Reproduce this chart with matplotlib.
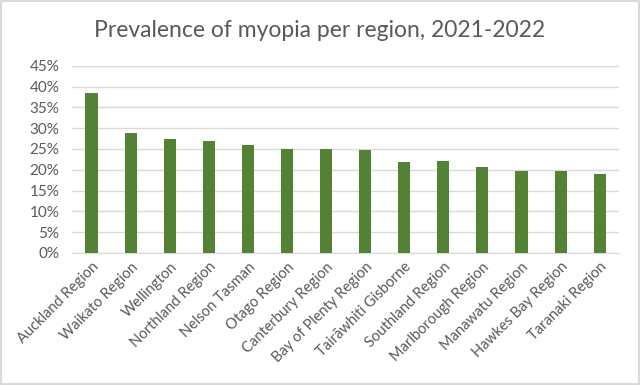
import matplotlib
matplotlib.use("Agg")
import matplotlib.pyplot as plt
from matplotlib.ticker import PercentFormatter, MultipleLocator
from matplotlib.patches import Rectangle

plt.rcParams['font.family'] = ['Lato', 'DejaVu Sans']

# --- データ ---
regions = ["Auckland Region", "Waikato Region", "Wellington", "Northland Region",
           "Nelson Tasman", "Otago Region", "Canterbury Region", "Bay of Plenty Region",
           "Tairāwhiti Gisborne", "Southland Region", "Marlborough Region",
           "Manawatu Region", "Hawkes Bay Region", "Taranaki Region"]
prevalence = [0.384, 0.289, 0.273, 0.269, 0.259, 0.251, 0.251, 0.247,
              0.219, 0.222, 0.207, 0.197, 0.197, 0.191]

BAR_COLOR = "#548235"
TEXT_COLOR = "#595959"
GRID_COLOR = "#d9d9d9"

fig = plt.figure(figsize=(6.4, 3.85), dpi=100)
ax = fig.add_axes([0.1125, 0.343, 0.855, 0.486])

x = range(len(regions))
ax.bar(x, prevalence, width=0.31, color=BAR_COLOR, zorder=3)

# --- 軸設定 ---
ax.set_ylim(0, 0.45)
ax.set_xlim(-0.5, len(regions) - 0.5)
ax.yaxis.set_major_locator(MultipleLocator(0.05))
ax.yaxis.set_major_formatter(PercentFormatter(1.0, decimals=0))
ax.grid(axis="y", color=GRID_COLOR, linewidth=1, zorder=0)
for s in ["top", "right", "left"]:
    ax.spines[s].set_visible(False)
ax.spines["bottom"].set_color(GRID_COLOR)
ax.tick_params(axis="both", length=0, colors=TEXT_COLOR, labelsize=10.5)
ax.tick_params(axis="y", labelsize=11, pad=9)
ax.tick_params(axis="x", pad=5)
ax.set_xticks(list(x))
ax.set_xticklabels(regions, rotation=45, ha="right", rotation_mode="anchor")

fig.text(0.5, 0.92, "Prevalence of myopia per region, 2021-2022",
         ha="center", va="center", fontsize=16.5, color=TEXT_COLOR)

# 外枠
fig.patches.append(Rectangle((0.002, 0.003), 0.996, 0.994, transform=fig.transFigure,
                             fill=False, edgecolor="#d9d9d9", linewidth=1.5))

fig.savefig("out.png", dpi=100, facecolor="white")
